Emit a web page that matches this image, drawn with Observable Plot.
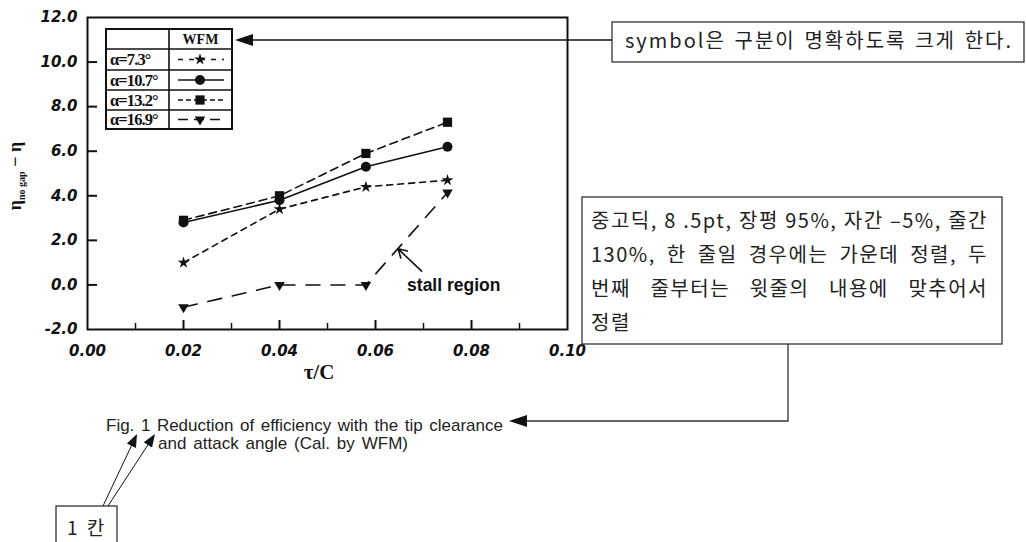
<!DOCTYPE html>
<html><head><meta charset="utf-8">
<script src="https://cdn.jsdelivr.net/npm/d3@7"></script>
<script src="https://cdn.jsdelivr.net/npm/@observablehq/plot@0.6"></script>
<style>
html,body{margin:0;padding:0;background:#fff;}
#chart{width:1026px;height:542px;overflow:hidden;}
</style></head><body><div id="chart"></div>
<script>
// ---- data ----
const tauC = [0.02, 0.04, 0.058, 0.075];
const alphaLabels = ["α=7.3°", "α=10.7°", "α=13.2°", "α=16.9°"];
const eta73 = [1.0, 3.4, 4.4, 4.7];
const eta107 = [2.8, 3.8, 5.3, 6.2];
const eta132 = [2.9, 4.0, 5.9, 7.3];
const eta169 = [-1.0, 0.0, 0.0, 4.15];
const xTickValues = [0, 0.02, 0.04, 0.06, 0.08, 0.10];
const xMinorTickValues = [0.01, 0.03, 0.05, 0.07, 0.09];
const yTickValues = [-2, 0, 2, 4, 6, 8, 10, 12];
const legendHeader = "WFM";
const xLabel = "τ/C";
const stallText = "stall region";
const noteSymbol = "symbol은 구분이 명확하도록 크게 한다.";
const noteCaption = ["중고딕, 8 .5pt, 장평 95%, 자간 –5%, 줄간", "130%, 한 줄일 경우에는 가운데 정렬, 두", "번째 줄부터는 윗줄의 내용에 맞추어서", "정렬"];
const captionLines = ["Fig. 1 Reduction of efficiency with the tip clearance", "and attack angle (Cal. by WFM)"];
const noteIndent = "1 칸";

// ---- styles ----
const seriesValues = [eta73, eta107, eta132, eta169];
const seriesSymbols = ["star", "circle", "square", "triangle"];
const seriesR = [3.7, 5, 5.2, 3.9];
const seriesRotate = [0, 0, 0, 180];
const seriesDash = ["6,5", null, "8,5", "14,11"];
const INK = "#111";

const rows = alphaLabels.flatMap((a, s) => tauC.map((t, i) => ({series: a, s, tau: t, eta: seriesValues[s][i]})));

const W = 1026, H = 542, mL = 87, mT = 17, mR = 459, mB = 213;
const pw = W - mL - mR, ph = H - mT - mB;
const tickFont = {fontFamily: "DejaVu Sans", fontSize: 15, fontWeight: "bold", fontStyle: "italic"};

const marks = [
  Plot.frame({stroke: INK, strokeWidth: 2}),
  Plot.tickY(yTickValues.filter(v => v > -2 && v < 12), {y: d => d, stroke: INK, strokeWidth: 2, insetRight: pw - 10}),
  Plot.tickX(xTickValues.filter(v => v > 0 && v < 0.1), {x: d => d, stroke: INK, strokeWidth: 2, insetTop: ph - 9}),
  Plot.tickX(xMinorTickValues, {x: d => d, stroke: INK, strokeWidth: 1.5, insetTop: ph - 6}),
  Plot.axisY(yTickValues, {tickSize: 0, tickPadding: 10, tickFormat: d => d.toFixed(1), label: null, fill: INK, ...tickFont}),
  Plot.axisX(xTickValues, {tickSize: 0, tickPadding: 16, tickFormat: d => d.toFixed(2), label: null, fill: INK, ...tickFont})
];
alphaLabels.forEach((a, s) => {
  const d = rows.filter(r => r.s === s);
  marks.push(Plot.line(d, {x: "tau", y: "eta", stroke: INK, strokeWidth: 1.6, strokeDasharray: seriesDash[s]}));
  marks.push(Plot.dot(d, {x: "tau", y: "eta", symbol: seriesSymbols[s], r: seriesR[s], rotate: seriesRotate[s], fill: INK, stroke: "none"}));
});
marks.push(Plot.text([stallText], {x: () => 0.0763, y: () => 0.0, text: d => d, fontFamily: "Liberation Sans", fontSize: 17.5, fontWeight: "bold", fill: INK, textAnchor: "middle"}));
marks.push(Plot.arrow([stallText], {x1: () => 0.0696, y1: () => 0.62, x2: () => 0.0647, y2: () => 1.62, stroke: INK, strokeWidth: 1.6, headLength: 9}));

const plot = Plot.plot({
  width: W, height: H,
  marginLeft: mL, marginTop: mT, marginRight: mR, marginBottom: mB,
  x: {domain: [0, 0.10], axis: null},
  y: {domain: [-2, 12], axis: null},
  style: {background: "#fff", color: INK},
  marks
});
document.getElementById("chart").appendChild(plot);

// ---- overlay annotations ----
const svg = d3.select(plot);
const g = svg.append("g").attr("text-anchor", "start");
const serif = "Liberation Serif";
const sans = "Liberation Sans";
const kr = "Noto Sans CJK KR";

function head(tail, tip, len, wid) {
  const dx = tip[0] - tail[0], dy = tip[1] - tail[1], L = Math.hypot(dx, dy);
  const ux = dx / L, uy = dy / L, px = -uy, py = ux;
  const bx = tip[0] - ux * len, by = tip[1] - uy * len;
  g.append("path").attr("d", `M${tip[0]},${tip[1]}L${bx + px * wid / 2},${by + py * wid / 2}L${bx - px * wid / 2},${by - py * wid / 2}Z`).attr("fill", INK);
}
function arrowLine(tail, tip, len, wid, sw) {
  const dx = tip[0] - tail[0], dy = tip[1] - tail[1], L = Math.hypot(dx, dy);
  g.append("line").attr("x1", tail[0]).attr("y1", tail[1]).attr("x2", tip[0] - dx / L * (len - 1)).attr("y2", tip[1] - dy / L * (len - 1)).attr("stroke", INK).attr("stroke-width", sw);
  head(tail, tip, len, wid);
}
// justify a text line to a width by widening its word spaces
function justify(sel, width) {
  const natural = sel.node().getComputedTextLength();
  const spaces = (sel.text().match(/ /g) || []).length;
  if (spaces > 0 && natural < width) sel.attr("word-spacing", (width - natural) / spaces);
  else if (natural > width) sel.attr("textLength", width).attr("lengthAdjust", "spacingAndGlyphs");
}

// legend table
const lx0 = 106, lx1 = 232, lxm = 169, ly = [29, 49, 70, 90, 110, 129];
g.append("rect").attr("x", lx0).attr("y", ly[0]).attr("width", lx1 - lx0).attr("height", ly[5] - ly[0]).attr("fill", "#fff").attr("stroke", INK).attr("stroke-width", 2);
g.append("line").attr("x1", lxm).attr("x2", lxm).attr("y1", ly[0]).attr("y2", ly[5]).attr("stroke", INK).attr("stroke-width", 1.6);
for (let i = 1; i < 5; i++) g.append("line").attr("x1", lx0).attr("x2", lx1).attr("y1", ly[i]).attr("y2", ly[i]).attr("stroke", INK).attr("stroke-width", 1.4);
g.append("text").attr("x", (lxm + lx1) / 2).attr("y", (ly[0] + ly[1]) / 2 + 5).attr("text-anchor", "middle")
  .attr("font-family", serif).attr("font-weight", "bold").attr("font-size", 14).attr("fill", INK).text(legendHeader);
const symMap = {star: d3.symbolStar, circle: d3.symbolCircle, square: d3.symbolSquare, triangle: d3.symbolTriangle};
alphaLabels.forEach((a, s) => {
  const cy = (ly[s + 1] + ly[s + 2]) / 2;
  const t = g.append("text").attr("x", 110).attr("y", cy + 5.5).attr("font-family", serif).attr("font-weight", "bold")
    .attr("font-size", 16.5).attr("letter-spacing", -0.9).attr("fill", INK).text(a);
  if (t.node().getComputedTextLength() > 57) t.attr("textLength", 57).attr("lengthAdjust", "spacingAndGlyphs");
  g.append("line").attr("x1", 178).attr("x2", 224).attr("y1", cy).attr("y2", cy).attr("stroke", INK).attr("stroke-width", 1.6)
    .attr("stroke-dasharray", seriesDash[s] ? (s === 0 ? "5,6" : s === 2 ? "5,3" : "10,6") : null);
  g.append("path").attr("d", d3.symbol(symMap[seriesSymbols[s]], seriesR[s] * seriesR[s] * Math.PI)())
    .attr("transform", `translate(200,${cy}) rotate(${seriesRotate[s]})`).attr("fill", INK);
});

// y label
const yl = g.append("text").attr("transform", "translate(21,176) rotate(-90)").attr("text-anchor", "middle")
  .attr("font-family", serif).attr("font-weight", "bold").attr("font-size", 18).attr("fill", INK);
yl.append("tspan").text("η");
yl.append("tspan").attr("font-size", 10).attr("dy", 4).text("no gap");
yl.append("tspan").attr("dy", -4).text(" − η");

// x label
g.append("text").attr("x", 319).attr("y", 379).attr("text-anchor", "middle").attr("font-family", serif)
  .attr("font-weight", "bold").attr("font-size", 21).attr("fill", INK).text(xLabel);

// note 1
g.append("rect").attr("x", 612).attr("y", 22).attr("width", 412).attr("height", 40).attr("fill", "#fff").attr("stroke", "#333").attr("stroke-width", 1.3);
justify(g.append("text").attr("x", 625).attr("y", 48).attr("font-family", kr).attr("font-size", 20).attr("letter-spacing", 2)
  .attr("fill", "#222").text(noteSymbol), 388);
arrowLine([612, 40], [235, 40], 18, 12, 1.3);

// note 2
g.append("rect").attr("x", 582).attr("y", 197).attr("width", 420).attr("height", 147).attr("fill", "#fff").attr("stroke", "#333").attr("stroke-width", 1.3);
noteCaption.forEach((t, i) => {
  const tx = g.append("text").attr("x", 591).attr("y", 228 + i * 34).attr("font-family", kr).attr("font-size", 20)
    .attr("letter-spacing", 1.5).attr("fill", "#222").text(t);
  if (i < 3) justify(tx, 397);
});
g.append("path").attr("d", "M788,344V421H526").attr("fill", "none").attr("stroke", "#333").attr("stroke-width", 1.3);
head([788, 421], [509, 421], 18, 12);

// caption
justify(g.append("text").attr("x", 106).attr("y", 431).attr("font-family", sans).attr("font-size", 17).attr("fill", "#222").text(captionLines[0]), 397);
justify(g.append("text").attr("x", 158).attr("y", 449).attr("font-family", sans).attr("font-size", 17).attr("fill", "#222").text(captionLines[1]), 250);

// note 3
g.append("rect").attr("x", 56).attr("y", 506).attr("width", 61).attr("height", 60).attr("fill", "#fff").attr("stroke", "#333").attr("stroke-width", 1.3);
g.append("text").attr("x", 67).attr("y", 535).attr("font-family", kr).attr("font-size", 19).attr("word-spacing", 5).attr("fill", "#222").text(noteIndent);
arrowLine([103, 506], [137, 434], 13, 10, 1);
arrowLine([108, 506], [155, 434], 13, 10, 1);
</script></body></html>
